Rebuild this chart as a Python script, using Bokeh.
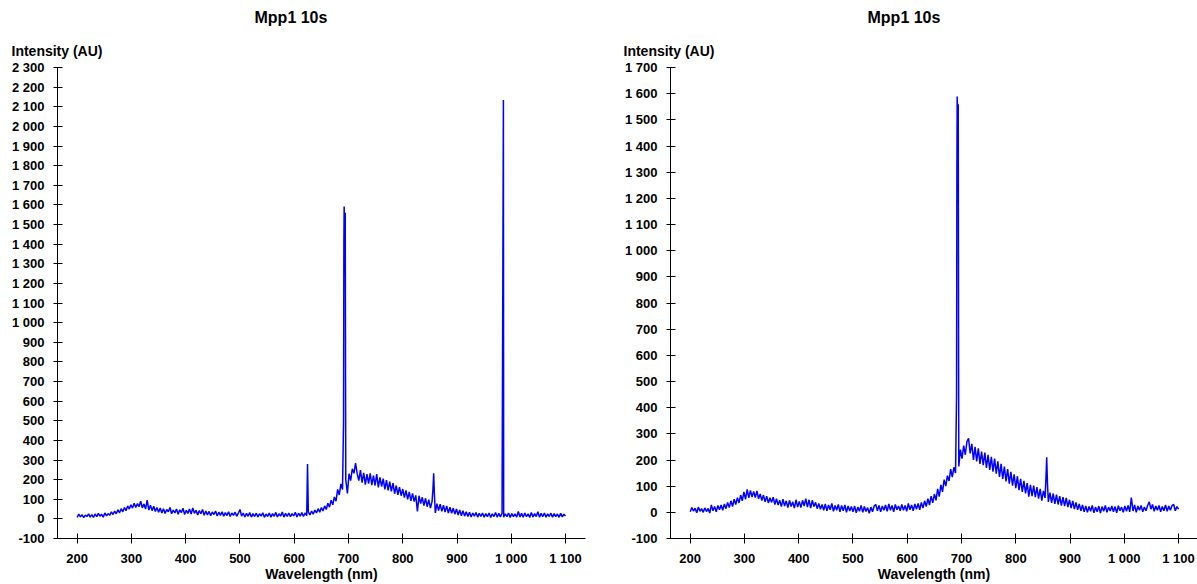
import numpy as np
from bokeh.plotting import figure
from bokeh.layouts import row
from bokeh.models import Title, Range1d, SingleIntervalTicker, CustomJSTickFormatter
from bokeh.embed import file_html
from bokeh.resources import INLINE

# ---------------- data ----------------
# base wavelength grid: 200 .. 1100 nm, 3 nm step
wl_start, wl_stop, wl_step = 200, 1100, 3

left_base = [
    8, 24, 10, 21, 6, 19, 12, 26, 9, 22,
    7, 25, 11, 28, 14, 23, 9, 30, 15, 27,
    18, 36, 22, 40, 26, 46, 31, 52, 36, 58,
    42, 66, 50, 72, 55, 80, 58, 78, 62, 90,
    56, 76, 50, 95, 45, 70, 42, 64, 38, 58,
    34, 55, 30, 52, 28, 48, 36, 58, 26, 45,
    30, 50, 24, 46, 32, 54, 22, 44, 28, 50,
    25, 56, 28, 44, 20, 42, 26, 48, 18, 40,
    20, 38, 16, 35, 22, 40, 15, 34, 18, 36,
    14, 32, 17, 36, 12, 30, 18, 34, 13, 29,
    48, 14, 30, 10, 28, 13, 32, 9, 27, 12,
    29, 10, 26, 14, 31, 8, 25, 12, 30, 9,
    27, 13, 33, 10, 26, 14, 35, 9, 28, 12,
    30, 11, 27, 15, 34, 10, 29, 14, 32, 12,
    30, 16, 34, 20, 40, 24, 45, 30, 52, 34,
    58, 40, 66, 48, 80, 60, 95, 72, 112, 90,
    150, 122, 178, 150, 1592, 200, 130, 230, 195, 255,
    232, 284, 230, 195, 248, 185, 235, 175, 228, 180,
    232, 172, 220, 170, 228, 160, 212, 165, 205, 150,
    198, 145, 190, 140, 182, 128, 170, 122, 162, 118,
    152, 108, 145, 100, 138, 92, 130, 88, 120, 38,
    118, 78, 110, 68, 105, 62, 98, 55, 88, 232,
    30, 78, 42, 75, 38, 70, 35, 66, 30, 60,
    28, 55, 24, 50, 20, 45, 16, 42, 14, 36,
    12, 34, 10, 30, 14, 32, 9, 28, 12, 30,
    8, 27, 11, 30, 7, 26, 12, 32, 9, 28,
    10, 29, 8, 26, 11, 30, 7, 27, 12, 25,
    9, 38, 10, 28, 8, 30, 11, 26, 7, 32,
    10, 27, 12, 36, 9, 28, 11, 30, 8, 26,
    12, 29, 9, 27, 11, 25, 8, 28, 10, 24,
    14,
]
left_spike_wl = [624.5, 690.9, 691.5, 693.0, 694.0, 694.6, 855.6, 858.4, 985.5]
left_spike_val = [280, 500, 1400, 1480, 1560, 700, 150, 120, 2134]

right_base = [
    2, 18, 5, 16, -2, 20, 4, 14, 0, 17,
    3, 15, -3, 28, 6, 22, 2, 26, 10, 28,
    8, 32, 14, 38, 18, 44, 22, 50, 30, 56,
    36, 66, 44, 78, 50, 88, 55, 84, 58, 80,
    56, 82, 52, 70, 45, 66, 40, 62, 36, 56,
    38, 58, 30, 52, 28, 46, 22, 50, 24, 44,
    18, 46, 22, 40, 16, 48, 20, 42, 18, 46,
    24, 52, 20, 48, 16, 46, 22, 38, 14, 34,
    12, 30, 8, 32, 6, 28, 10, 34, 4, 26,
    8, 30, 2, 26, 6, 28, 0, 24, 5, 22,
    2, 24, -2, 20, 4, 26, 0, 22, 3, 18,
    -4, 20, 2, 24, 30, 6, 26, 2, 24, 8,
    28, 4, 32, 8, 26, 2, 30, 10, 24, 6,
    30, 8, 26, 4, 34, 10, 28, 6, 32, 12,
    34, 10, 38, 16, 44, 22, 52, 28, 62, 36,
    70, 46, 90, 60, 105, 78, 125, 100, 140, 120,
    165, 135, 172, 150, 1589, 175, 240, 205, 255, 220,
    270, 283, 225, 262, 200, 250, 195, 245, 185, 232,
    180, 228, 170, 220, 162, 212, 155, 205, 148, 195,
    135, 185, 128, 175, 118, 165, 110, 155, 102, 145,
    92, 138, 85, 128, 78, 120, 72, 112, 60, 105,
    62, 102, 58, 96, 52, 90, 45, 82, 55, 210,
    40, 75, 36, 72, 32, 68, 30, 62, 26, 58,
    24, 55, 20, 48, 16, 44, 12, 38, 10, 32,
    6, 28, 2, 24, 0, 22, 4, 26, -2, 20,
    2, 24, -3, 22, 4, 26, 0, 20, 5, 24,
    2, 22, -2, 25, 6, 20, 0, 24, 4, 26,
    2, 56, 5, 28, 0, 24, 8, 26, 2, 20,
    6, 26, 40, 12, 30, 4, 24, 8, 26, 2,
    22, 6, 28, 4, 24, 8, 26, 30, 6, 22,
    12,
]
right_spike_wl = [690.9, 691.5, 693.0, 694.0, 694.6, 855.6, 858.4]
right_spike_val = [450, 1300, 1500, 1560, 600, 130, 110]

title_text = "Mpp1 10s"
x_label = "Wavelength (nm)"
y_label = "Intensity (AU)"
left_yrange = (-100, 2300)
right_yrange = (-100, 1700)
tick_interval = 100


def merge(base, spike_wl, spike_val):
    wl = np.arange(wl_start, wl_stop + 1, wl_step, dtype=float)
    x = np.concatenate([wl, np.array(spike_wl, dtype=float)])
    y = np.concatenate([np.array(base, dtype=float), np.array(spike_val, dtype=float)])
    order = np.argsort(x, kind="stable")
    return x[order], y[order]


FONT = "Liberation Sans"
fmt = CustomJSTickFormatter(code=r"""
const s = Math.abs(tick).toString().replace(/\B(?=(\d{3})+(?!\d))/g, " ");
return (tick < 0 ? "-" : "") + s;
""")


def make_panel(xs, ys, yr, width, border_left, border_right, x_end, ylab_offset):
    p = figure(width=width, height=584, output_backend="svg", toolbar_location=None,
               x_range=Range1d(163.7, x_end), y_range=Range1d(*yr),
               min_border_left=border_left, min_border_right=border_right,
               min_border_top=0, min_border_bottom=46)
    p.outline_line_color = None
    p.xgrid.grid_line_color = None
    p.ygrid.grid_line_color = None
    p.background_fill_color = "white"
    p.border_fill_color = "white"

    p.line(xs, ys, line_color="#0000ff", line_width=1.5)

    for ax in (p.xaxis[0], p.yaxis[0]):
        ax.formatter = fmt
        ax.ticker = SingleIntervalTicker(interval=tick_interval, num_minor_ticks=0)
        ax.minor_tick_line_color = None
        ax.axis_line_color = "black"
        ax.major_tick_line_color = "black"
        ax.major_label_text_font = FONT
        ax.major_label_text_font_style = "bold"
        ax.major_label_text_font_size = "13px"
        ax.major_label_text_color = "black"
    xa = p.xaxis[0]
    xa.major_tick_in = 5
    xa.major_tick_out = 5
    xa.major_label_standoff = 7
    xa.axis_label = x_label
    xa.axis_label_text_font = FONT
    xa.axis_label_text_font_style = "bold"
    xa.axis_label_text_font_size = "14px"
    xa.axis_label_text_color = "black"
    xa.axis_label_standoff = -3
    ya = p.yaxis[0]
    ya.major_tick_in = 5
    ya.major_tick_out = 4
    ya.major_label_standoff = 9

    p.title.text = title_text
    p.title.align = "left"
    p.title.offset = 197
    p.title.text_font = FONT
    p.title.text_font_style = "bold"
    p.title.text_font_size = "16px"
    p.title.text_color = "black"
    p.title.standoff = 12

    t2 = Title(text=y_label, align="left", offset=ylab_offset, text_font=FONT,
               text_font_style="bold", text_font_size="14px", text_color="black",
               standoff=18)
    p.add_layout(t2, "above")
    return p


lx, ly = merge(left_base, left_spike_wl, left_spike_val)
rx, ry = merge(right_base, right_spike_wl, right_spike_val)

left = make_panel(lx, ly, left_yrange, 620, 57, 35, 1136.8, -46)
right = make_panel(rx, ry, right_yrange, 577, 50, 0, 1134.9, -47)

layout = row(left, right)
open("out.html", "w").write(file_html(layout, INLINE))
